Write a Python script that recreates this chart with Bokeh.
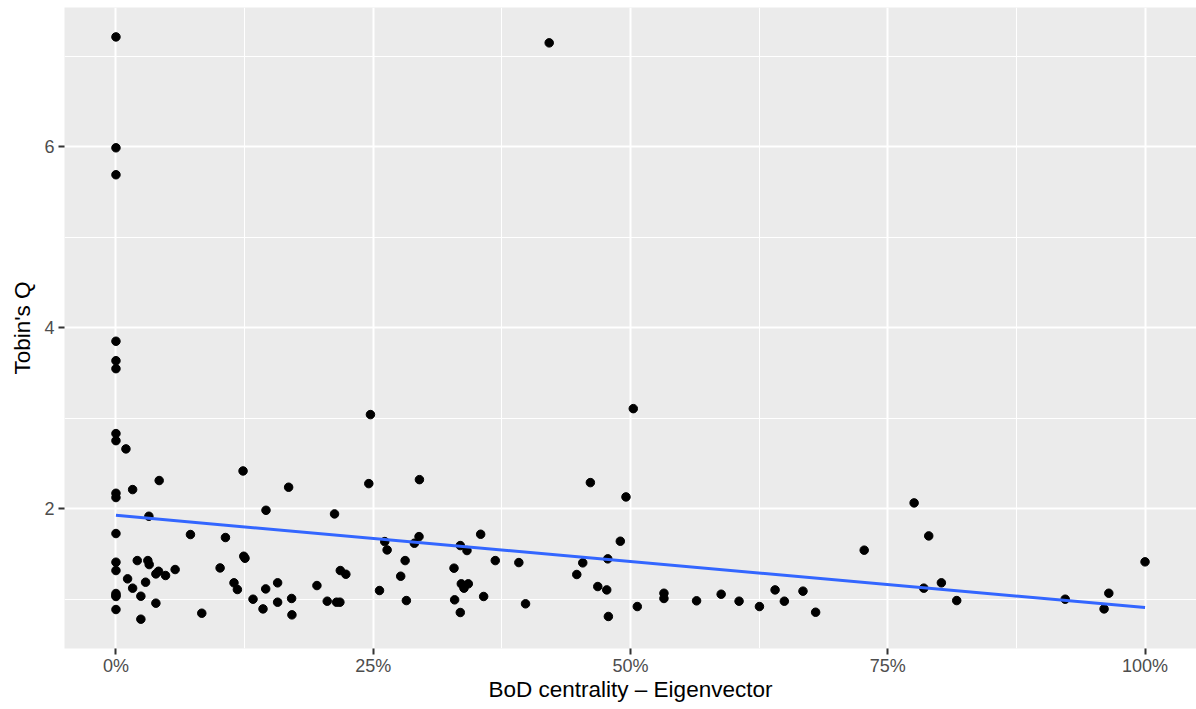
import numpy as np
from bokeh.plotting import figure
from bokeh.models import FixedTicker, NumeralTickFormatter, Range1d
from bokeh.embed import file_html
from bokeh.resources import INLINE

# BoD centrality - Eigenvector (share) and Tobin's Q
centrality = [
    0, 0, 0, 0, 0, 0, 0, 0, 0, 0, 0, 0, 0, 0, 0, 0, 0,
    0.0097, 0.0162, 0.042, 0.032, 0.0207, 0.031, 0.0323, 0.0113, 0.0162, 0.0288,
    0.0242, 0.0388, 0.0242, 0.0388, 0.0414, 0.0482, 0.0575, 0.0724, 0.0834, 0.1012,
    0.1064, 0.1235, 0.1242, 0.1254, 0.1147, 0.118, 0.1332, 0.1429, 0.1455, 0.1571,
    0.1571, 0.1458, 0.1678, 0.1707, 0.171, 0.1953, 0.2053, 0.2144, 0.2176, 0.2124,
    0.218, 0.2234, 0.2473, 0.2457, 0.2561, 0.2612, 0.2635, 0.281, 0.2767, 0.2822,
    0.29, 0.2945, 0.2949, 0.3285, 0.3291, 0.3346, 0.3411, 0.3544, 0.3356, 0.3382,
    0.3424, 0.3346, 0.3573, 0.3686, 0.3915, 0.398, 0.421, 0.461, 0.4956, 0.5027,
    0.4901, 0.4779, 0.4536, 0.4478, 0.4682, 0.4769, 0.4785, 0.5066, 0.5325, 0.5325,
    0.5642, 0.5881, 0.6055, 0.6253, 0.6405, 0.6495, 0.6676, 0.6799, 0.7271, 0.7756,
    0.7898, 0.785, 0.8021, 0.817, 0.9224, 0.9648, 0.9602, 1.0,
]
tobins_q = [
    7.215, 5.989, 5.691, 3.85, 3.635, 3.547, 2.829, 2.751, 2.169, 2.122, 1.724,
    1.407, 1.315, 1.061, 1.04, 1.028, 0.884,
    2.66, 2.21, 2.31, 1.915, 1.425, 1.425, 1.381, 1.223, 1.12, 1.186,
    1.031, 0.954, 0.777, 1.278, 1.307, 1.26, 1.326, 1.713, 0.843, 1.344,
    1.68, 2.416, 1.473, 1.451, 1.179, 1.105, 0.998, 0.891, 1.112, 1.179,
    0.965, 1.981, 2.236, 1.006, 0.825, 1.149, 0.976, 0.965, 0.965, 1.941,
    1.315, 1.274, 3.039, 2.276, 1.094, 1.635, 1.543, 1.425, 1.252, 0.983,
    1.617, 1.69, 2.32, 1.341, 0.991, 1.591, 1.536, 1.716, 1.168, 1.12,
    1.168, 0.851, 1.028, 1.425, 1.403, 0.947, 7.149, 2.287, 2.129, 3.105,
    1.639, 1.444, 1.4, 1.271, 1.138, 1.101, 0.807, 0.917, 1.064, 1.006,
    0.98, 1.053, 0.976, 0.917, 1.101, 0.976, 1.087, 0.854, 1.54, 2.063,
    1.698, 1.12, 1.179, 0.983, 0.998, 1.064, 0.891, 1.411,
]

x_ticks = [0, 0.25, 0.5, 0.75, 1.0]
x_minor = [0.125, 0.375, 0.625, 0.875]
y_ticks = [2, 4, 6]
y_minor = [1, 3, 5, 7]

x = np.array(centrality)
y = np.array(tobins_q)
slope, intercept = np.polyfit(x, y, 1)
fit_x = np.array([x.min(), x.max()])
fit_y = intercept + slope * fit_x

FONT = "Liberation Sans"

p = figure(width=1196, height=709, output_backend="svg", toolbar_location=None,
           x_range=Range1d(-0.05, 1.05), y_range=Range1d(0.453, 7.54),
           min_border_left=64, min_border_right=0, min_border_top=7, min_border_bottom=61)
p.background_fill_color = "#EBEBEB"
p.border_fill_color = "white"
p.outline_line_color = None

for ax in (p.xaxis[0], p.yaxis[0]):
    ax.axis_line_color = None
    ax.major_tick_line_color = "#333333"
    ax.major_tick_line_width = 2
    ax.major_tick_out = 6
    ax.major_tick_in = 0
    ax.minor_tick_line_color = None
    ax.major_label_text_font = FONT
    ax.major_label_text_font_size = "18px"
    ax.major_label_text_color = "#4D4D4D"
    ax.axis_label_text_font = FONT
    ax.axis_label_text_font_size = "22.5px"
    ax.axis_label_text_font_style = "normal"
    ax.axis_label_text_color = "black"

p.xaxis.ticker = FixedTicker(ticks=x_ticks, minor_ticks=x_minor)
p.yaxis.ticker = FixedTicker(ticks=y_ticks, minor_ticks=y_minor)
p.xaxis.formatter = NumeralTickFormatter(format="0%")
p.xaxis.axis_label = "BoD centrality \u2013 Eigenvector"
p.yaxis.axis_label = "Tobin's Q"
p.xaxis.major_label_standoff = 1
p.xaxis.axis_label_standoff = -2
p.yaxis.major_label_standoff = 4
p.yaxis.axis_label_standoff = 6

for g in (p.xgrid[0], p.ygrid[0]):
    g.grid_line_color = "white"
    g.grid_line_width = 2
    g.minor_grid_line_color = "white"
    g.minor_grid_line_width = 1

p.scatter(x, y, size=8.5, color="black", line_color="black")
p.line(fit_x, fit_y, line_color="#3366FF", line_width=3)

open("out.html", "w").write(file_html(p, INLINE))
